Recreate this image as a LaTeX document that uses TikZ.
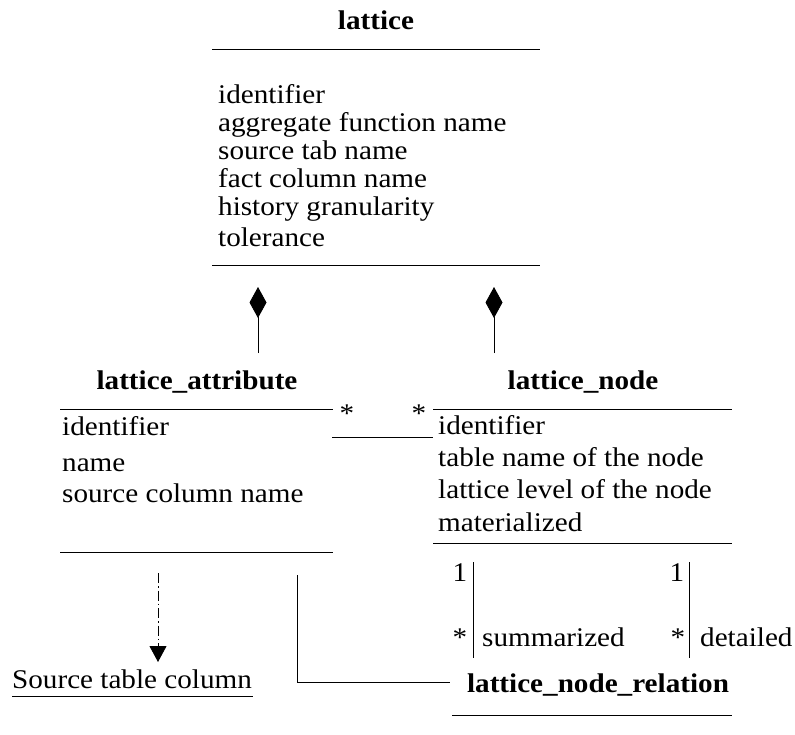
\documentclass[tikz,border=0pt]{standalone}
\usepackage{fontspec}
\setmainfont{Liberation Serif}[FakeStretch=1.08]
\usetikzlibrary{arrows.meta}
\begin{document}
\begin{tikzpicture}[x=1pt,y=-1pt,
  txt/.style={font=\fontsize{27}{31}\selectfont, inner sep=0pt, anchor=base west},
  ttl/.style={font=\fontsize{27}{31}\selectfont\bfseries, inner sep=0pt, anchor=base},
  mult/.style={font=\fontsize{27}{31}\selectfont, inner sep=0pt, anchor=base},
  rule/.style={line width=0.9pt},
  comp/.style={line width=0.9pt, -{Diamond[length=31pt,width=17pt]}},
  assoc/.style={line width=0.9pt},
  dep/.style={line width=0.9pt, dash pattern=on 10pt off 3pt on 1.5pt off 3pt,
              -{Triangle[length=16pt,width=17pt]}},
]
\useasboundingbox (0,0) rectangle (795,734);

% --- class: lattice ---
\node[ttl] (latT) at (376,29) {lattice};
\draw[rule] (212,49) -- (540,49);
\node[txt] (lat1) at (218,103) {identifier};
\node[txt] (lat2) at (218,131) {aggregate function name};
\node[txt] (lat3) at (218,159) {source tab name};
\node[txt] (lat4) at (218,187) {fact column name};
\node[txt] (lat5) at (218,215) {history granularity};
\node[txt] (lat6) at (218,246) {tolerance};
\draw[rule] (212,265) -- (540,265);

% --- class: lattice_attribute ---
\node[ttl] (attT) at (197,389) {lattice\_attribute};
\draw[rule] (60,409) -- (333,409);
\node[txt] (att1) at (62,435) {identifier};
\node[txt] (att2) at (62,471) {name};
\node[txt] (att3) at (62,502) {source column name};
\draw[rule] (60,552) -- (333,552);

% --- class: lattice_node ---
\node[ttl] (nodT) at (583,389) {lattice\_node};
\draw[rule] (433,409) -- (732,409);
\node[txt] (nod1) at (438,434) {identifier};
\node[txt] (nod2) at (438,466) {table name of the node};
\node[txt] (nod3) at (438,498) {lattice level of the node};
\node[txt] (nod4) at (438,531) {materialized};
\draw[rule] (433,543) -- (732,543);

% --- class: lattice_node_relation ---
\node[ttl] (relT) at (598,692) {lattice\_node\_relation};
\draw[rule] (452,715) -- (732,715);

% --- external: Source table column ---
\node[txt] (src) at (12,688) {Source table column};
\draw[rule] (12,696) -- (253,696);

% --- composition: lattice owns its attributes and nodes ---
\coordinate (attFoot) at (258,353);
\coordinate (attTip)  at (258,287);
\coordinate (nodFoot) at (494,353);
\coordinate (nodTip)  at (494,287);
\draw[comp] (attFoot) -- (attTip);
\draw[comp] (nodFoot) -- (nodTip);

% --- association attribute * -- * node ---
\coordinate (asL) at (332,437);
\coordinate (asR) at (433,437);
\draw[assoc] (asL) -- (asR);
\node[mult] (mAL) at (347,422) {*};
\node[mult] (mAR) at (419,422) {*};

% --- dependency to Source table column ---
\coordinate (depA) at (158,573);
\coordinate (depB) at (158,662);
\draw[dep] (depA) -- (depB);

% --- attribute to node relation ---
\coordinate (arA) at (297,575);
\coordinate (arB) at (450,682);
\draw[assoc] (arA) |- (arB);

% --- summarized / detailed links ---
\coordinate (sumA) at (473,562);
\coordinate (sumB) at (473,658);
\coordinate (detA) at (689,562);
\coordinate (detB) at (689,658);
\draw[assoc] (sumA) -- (sumB);
\draw[assoc] (detA) -- (detB);
\node[mult] (s1) at (460,581) {1};
\node[mult] (s2) at (460,646) {*};
\node[txt]  (sL) at (482,646) {summarized};
\node[mult] (d1) at (677,581) {1};
\node[mult] (d2) at (678,646) {*};
\node[txt]  (dL) at (700,646) {detailed};
\end{tikzpicture}
\end{document}
